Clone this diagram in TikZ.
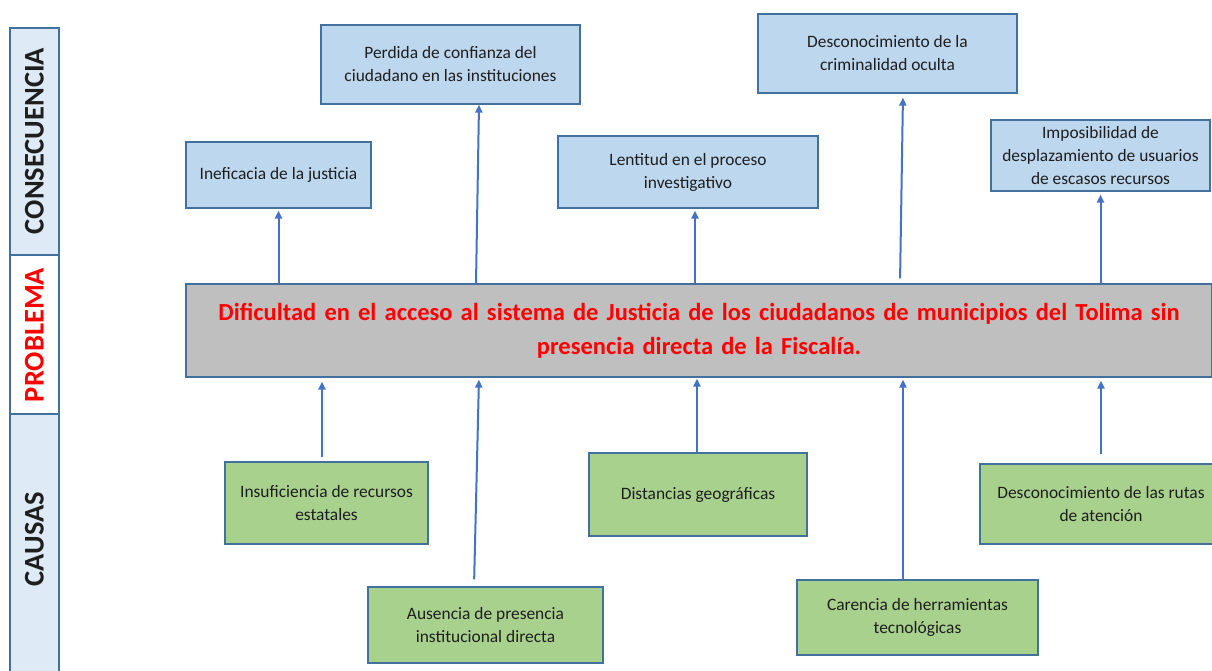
\documentclass[tikz,border=0pt]{standalone}
\usepackage{fontspec}
\setmainfont{Carlito}
\usetikzlibrary{arrows.meta}
\definecolor{bordc}{HTML}{41719C}
\definecolor{consf}{HTML}{BDD7EE}
\definecolor{causf}{HTML}{A9D18E}
\definecolor{probf}{HTML}{BFBFBF}
\definecolor{barf}{HTML}{DEEBF7}
\definecolor{arrc}{HTML}{4472C4}
\definecolor{txtc}{HTML}{1E1E1E}
\begin{document}
\begin{tikzpicture}[x=1pt,y=-1pt,
 box/.style={draw=bordc, line width=1.2pt, inner sep=0pt, align=center, text=txtc, font=\fontsize{17.4}{23}\selectfont},
 cons/.style={box, fill=consf},
 caus/.style={box, fill=causf},
 arr/.style={draw=arrc, line width=2pt, -{Triangle[length=8pt,width=7pt]}},
 barsec/.style={draw=bordc, line width=1.2pt},
 lab/.style={rotate=90, inner sep=0pt, font=\fontsize{28.5}{32}\selectfont\bfseries}]
\useasboundingbox (0,0) rectangle (1212,671);
\clip (0,0) rectangle (1212,671);
\fill[white] (0,0) rectangle (1212,671);
% side bar
\draw[barsec, fill=barf] (10,28) rectangle (59,255);
\draw[barsec, fill=white] (10,255) rectangle (59,414);
\draw[barsec, fill=barf] (10,414) rectangle (59,690);
\node[lab, text=txtc] (lcons) at (34.5,141) {CONSECUENCIA};
\node[lab, text=red] (lprob) at (34.5,335) {PROBLEMA};
\node[lab, text=txtc] (lcaus) at (34.5,539) {CAUSAS};
% problem
\node[box, fill=probf, minimum width=1026pt, minimum height=93pt, text width=1020pt, text=red,
      font=\fontsize{24.5}{34}\selectfont\bfseries] (prob) at (699,330.5)
  {Dificultad en el acceso al sistema de Justicia de los ciudadanos de municipios del Tolima sin\\presencia directa de la Fiscalía.};
% consequences
\node[cons, minimum width=185pt, minimum height=66pt] (ineff) at (278.5,175) {Ineficacia de la justicia};
\node[cons, minimum width=259pt, minimum height=79pt] (perd) at (450.5,64.5) {Perdida de confianza del\\ciudadano en las instituciones};
\node[cons, minimum width=260pt, minimum height=72pt] (lent) at (688,172) {Lentitud en el proceso\\investigativo};
\node[cons, minimum width=259pt, minimum height=79pt] (crim) at (887.5,53.5) {Desconocimiento de la\\criminalidad oculta};
\node[cons, minimum width=219pt, minimum height=71pt] (impo) at (1100.5,155.5) {Imposibilidad de\\desplazamiento de usuarios\\de escasos recursos};
% causes
\node[caus, minimum width=203pt, minimum height=82pt] (insu) at (326.5,503) {Insuficiencia de recursos\\estatales};
\node[caus, minimum width=235pt, minimum height=76pt] (ause) at (485.5,625) {Ausencia de presencia\\institucional directa};
\node[caus, minimum width=218pt, minimum height=83pt] (dist) at (698,494.5) {Distancias geográficas};
\node[caus, minimum width=241pt, minimum height=75pt] (care) at (917.5,617.5) {Carencia de herramientas\\tecnológicas};
\node[caus, minimum width=242pt, minimum height=80pt] (ruta) at (1101,504) {Desconocimiento de las rutas\\de atención};
% arrows to consequences
\draw[arr, shorten >=2pt] (prob.north -| ineff.south) -- (ineff.south);
\draw[arr] ([xshift=-223pt]prob.north) -- ([xshift=28.5pt]perd.south);
\draw[arr, shorten >=2pt] ([xshift=-4pt]prob.north) -- ([xshift=7pt]lent.south);
\draw[arr, shorten <=5pt, shorten >=4pt] ([xshift=201pt]prob.north) -- ([xshift=15.5pt]crim.south);
\draw[arr, shorten >=3pt] (prob.north -| impo.south) -- (impo.south);
% arrows from causes
\draw[arr, shorten <=4pt, shorten >=4pt] ([xshift=-4.5pt]insu.north) -- ([xshift=-377pt]prob.south);
\draw[arr, shorten <=7pt, shorten >=2pt] ([xshift=-11.5pt]ause.north) -- ([xshift=-220pt]prob.south);
\draw[arr, shorten >=1pt] ([xshift=-1pt]dist.north) -- ([xshift=-2pt]prob.south);
\draw[arr, shorten >=2pt] ([xshift=-14.5pt]care.north) -- ([xshift=204pt]prob.south);
\draw[arr, shorten <=9pt, shorten >=3pt] (ruta.north) -- (prob.south -| ruta.north);
\end{tikzpicture}
\end{document}
